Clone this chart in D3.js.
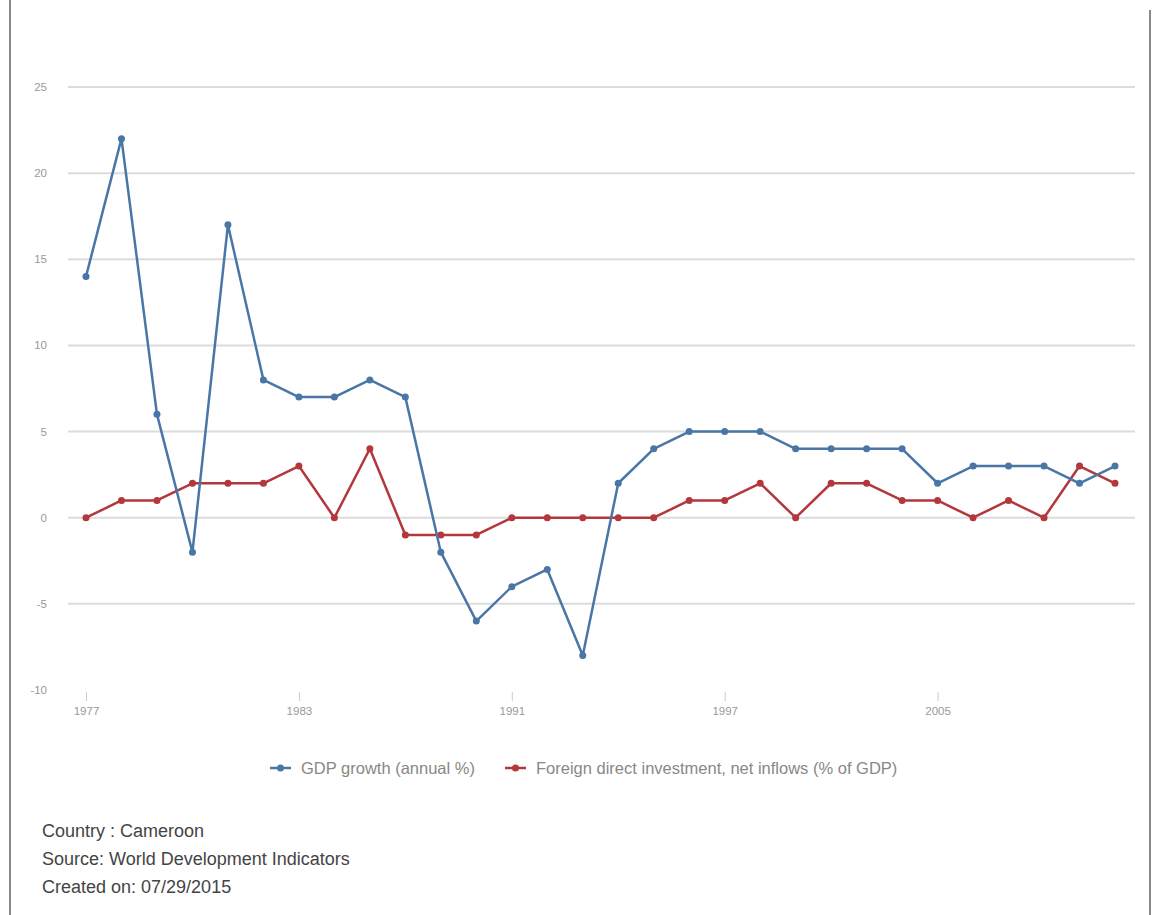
<!DOCTYPE html>
<html>
<head>
<meta charset="utf-8">
<script src="https://cdn.jsdelivr.net/npm/d3@7"></script>
<style>
  body { margin: 0; background: #fff; }
  svg { font-family: "Liberation Sans", Arial, sans-serif; }
</style>
</head>
<body>
<svg id="chart"></svg>
<script>
const width = 1152;
const height = 915;

// values, one per plotted year
const gdpGrowth = [14, 22, 6, -2, 17, 8, 7, 7, 8, 7, -2, -6, -4, -3, -8, 2, 4, 5, 5, 5, 4, 4, 4, 4, 2, 3, 3, 3, 2, 3];
const fdiInflows = [0, 1, 1, 2, 2, 2, 3, 0, 4, -1, -1, -1, 0, 0, 0, 0, 0, 1, 1, 2, 0, 2, 2, 1, 1, 0, 1, 0, 3, 2];
const tickIndex = [0, 6, 12, 18, 24];
const tickLabels = ["1977", "1983", "1991", "1997", "2005"];
const yTicks = [-10, -5, 0, 5, 10, 15, 20, 25];
const seriesNames = ["GDP growth (annual %)", "Foreign direct investment, net inflows (% of GDP)"];
const footer = ["Country : Cameroon", "Source: World Development Indicators", "Created on: 07/29/2015"];

const blue = "#4a76a6";
const red = "#b3373b";

const svg = d3.select("#chart")
    .attr("width", width)
    .attr("height", height);

// page frame
svg.append("line").attr("x1", 10).attr("x2", 10).attr("y1", 0).attr("y2", height)
    .attr("stroke", "#8a8a8a").attr("stroke-width", 2);
svg.append("line").attr("x1", 1150).attr("x2", 1150).attr("y1", 10).attr("y2", height)
    .attr("stroke", "#8a8a8a").attr("stroke-width", 2);

const x = d3.scaleLinear().domain([0, gdpGrowth.length - 1]).range([86, 1115]);
const y = d3.scaleLinear().domain([-10, 25]).range([690, 87]);

// gridlines (none at the bottom value)
svg.append("g")
    .selectAll("line")
    .data(yTicks.filter(d => d > -10))
    .join("line")
    .attr("x1", 68)
    .attr("x2", 1135)
    .attr("y1", d => y(d))
    .attr("y2", d => y(d))
    .attr("stroke", "#dcdcdc")
    .attr("stroke-width", 2);

// y labels
svg.append("g")
    .selectAll("text")
    .data(yTicks)
    .join("text")
    .attr("x", 47)
    .attr("y", d => y(d) + 4)
    .attr("text-anchor", "end")
    .attr("font-size", 11.5)
    .attr("fill", "#999")
    .text(d => d);

// x axis
const xAxis = d3.axisBottom(x)
    .tickValues(tickIndex)
    .tickFormat((d, i) => tickLabels[i])
    .tickSize(9)
    .tickPadding(6);

const xg = svg.append("g")
    .attr("transform", "translate(0,692)")
    .call(xAxis);
xg.select(".domain").remove();
xg.selectAll(".tick line").attr("stroke", "#ccc");
xg.selectAll(".tick text").attr("fill", "#999").attr("font-size", 11.5)
    .attr("font-family", "Liberation Sans, Arial, sans-serif");

const line = d3.line()
    .x((d, i) => x(i))
    .y(d => y(d));

const drawSeries = (values, color) => {
    svg.append("path")
        .datum(values)
        .attr("d", line)
        .attr("fill", "none")
        .attr("stroke", color)
        .attr("stroke-width", 2.5)
        .attr("stroke-linejoin", "round");
    svg.append("g")
        .selectAll("circle")
        .data(values)
        .join("circle")
        .attr("cx", (d, i) => x(i))
        .attr("cy", d => y(d))
        .attr("r", 3.5)
        .attr("fill", color);
};

drawSeries(fdiInflows, red);
drawSeries(gdpGrowth, blue);

// legend
const legendItems = [
    {name: seriesNames[0], color: blue, x: 270},
    {name: seriesNames[1], color: red, x: 505}
];
legendItems.forEach(item => {
    const g = svg.append("g").attr("transform", `translate(${item.x},768)`);
    g.append("line").attr("x1", 0).attr("x2", 21).attr("y1", 0).attr("y2", 0)
        .attr("stroke", item.color).attr("stroke-width", 2.5);
    g.append("circle").attr("cx", 10.5).attr("cy", 0).attr("r", 3.5).attr("fill", item.color);
    g.append("text").attr("x", 31).attr("y", 6)
        .attr("font-size", 16.5)
        .attr("fill", "#888")
        .text(item.name);
});

// footer
svg.append("g")
    .selectAll("text")
    .data(footer)
    .join("text")
    .attr("x", 42)
    .attr("y", (d, i) => 837 + i * 28)
    .attr("font-size", 18)
    .attr("fill", "#444")
    .text(d => d);
</script>
</body>
</html>
